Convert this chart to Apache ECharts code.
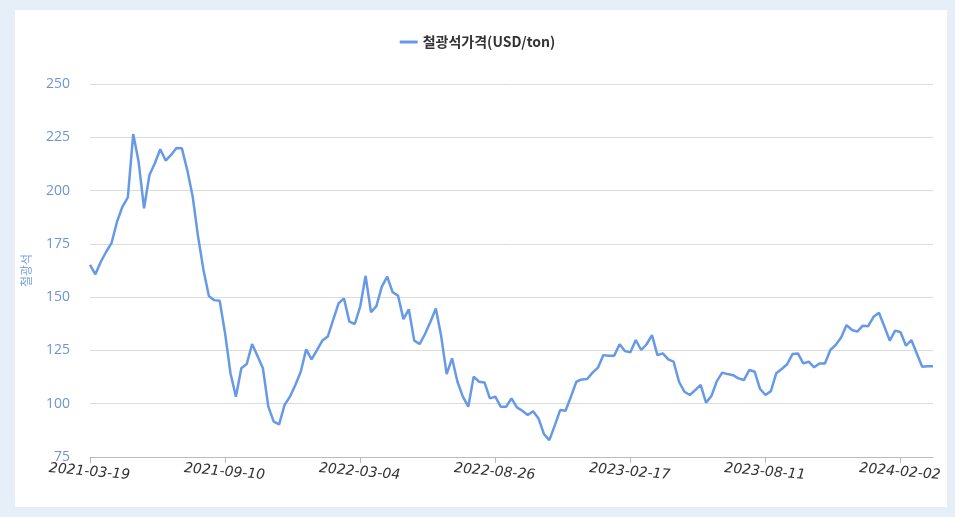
<!DOCTYPE html>
<html>
<head>
<meta charset="utf-8">
<script src="https://cdn.jsdelivr.net/npm/echarts@6/dist/echarts.min.js"></script>
<style>
html,body{margin:0;padding:0;background:#e6eef8;}
#wrap{position:absolute;left:15px;top:10px;width:932px;height:497px;background:#fff;}
#chartDiv{width:955px;height:517px;position:absolute;left:0;top:0;}
</style>
</head>
<body>
<div id="wrap"></div>
<div id="chartDiv"></div>
<script>
var seriesName = '철광석가격(USD/ton)';
var yTicks = [75, 100, 125, 150, 175, 200, 225, 250];
var startDate = '2021-03-19';
var pointCount = 157;
// 주간 가격
var prices = [
    165.1, 160.7, 166.6, 171.3, 175.5, 185.4, 192.4, 196.8, 226.5, 213.5,
    191.7, 207.3, 212.8, 219.4, 214.1, 216.7, 220, 219.8, 209.6, 197.2,
    178.4, 162.7, 150.5, 148.6, 148.3, 133, 114.3, 103.3, 116.6, 118.6,
    128, 122.4, 116.6, 98.6, 91.6, 90.3, 99.4, 103.3, 108.8, 115,
    125.5, 120.8, 125.2, 129.6, 131.5, 139.3, 147.1, 149.4, 138.5, 137.4,
    145.5, 160, 142.9, 145.8,
    154.9, 159.6, 152.3, 150.7, 139.7, 144.3, 129.6, 128, 132.7, 138.5,
    144.7, 131.5, 113.9, 121.3, 110.3, 103.3, 98.6, 112.7, 110.3, 110,
    102.5, 103.3, 98.6, 98.6, 102.5, 98.3, 96.7, 94.7, 96.5, 93.1,
    85.8, 82.9, 89.7, 97, 96.7, 103.3, 110.3, 111.4, 111.6, 114.6,
    116.9, 122.8, 122.5, 122.5, 127.9, 124.7,
    124.1, 129.9, 125.2, 127.9, 132.2, 122.8, 123.6, 120.8, 119.7, 110.3,
    105.6, 104.1, 106.4, 108.8, 100.5, 103.6, 110.6, 114.6, 113.9, 113.4,
    111.9, 111.1, 115.8, 115, 106.9, 104.1, 105.9, 114.3, 116.3, 118.5,
    123.3, 123.6, 118.9, 119.7, 117.1, 118.9, 118.9, 125.2, 127.6, 131.1,
    136.9, 134.6, 133.8, 136.6, 136.4, 140.8, 142.7, 136.2, 129.6, 134.3,
    133.5, 127.2, 129.9, 123.6, 117.3, 117.6, 117.6
];

//주간 날짜 만들기
var dates = [];
var d0 = new Date(startDate + 'T00:00:00Z');
for (var i = 0; i < pointCount; i++) {
    var d = new Date(d0.getTime() + i * 7 * 86400000);
    dates.push(d.toISOString().slice(0, 10));
}

var myChart = echarts.init(document.getElementById('chartDiv'));
var option = {
    color: ['#6699e6'],
    legend: {
        top: 30,
        left: 'center',
        itemWidth: 18,
        itemHeight: 3,
        icon: 'rect',
        textStyle: { fontFamily: 'Noto Sans CJK KR', fontSize: 14, fontWeight: 'bold', color: '#333' },
        data: [seriesName]
    },
    grid: { left: 90, right: 22, top: 84, bottom: 60, outerBoundsMode: 'none', containLabel: false },
    xAxis: {
        type: 'category',
        boundaryGap: false,
        data: dates,
        axisLine: { lineStyle: { color: '#bbb' } },
        axisTick: { interval: 24, length: 6, lineStyle: { color: '#bbb' } },
        axisLabel: {
            interval: 24,
            rotate: -5,
            align: 'center',
            verticalAlign: 'top',
            margin: 8,
            fontStyle: 'italic',
            fontFamily: 'DejaVu Sans',
            fontSize: 14,
            color: '#333'
        },
        splitLine: { show: false }
    },
    yAxis: {
        type: 'value',
        min: yTicks[0],
        max: yTicks[yTicks.length - 1],
        interval: 25,
        name: '철광석',
        nameLocation: 'middle',
        nameGap: 58,
        nameTextStyle: { color: '#7aa3e0', fontSize: 12, fontFamily: 'Noto Sans CJK KR' },
        axisLine: { show: false },
        axisTick: { show: false },
        axisLabel: { margin: 20, color: '#6f93d6', fontSize: 14, fontFamily: 'Open Sans' },
        splitLine: { lineStyle: { color: '#dcdcdc', width: 1 } }
    },
    series: [
        {
            name: seriesName,
            type: 'line',
            data: prices,
            showSymbol: false,
            lineStyle: { width: 2.5 }
        }
    ]
};
myChart.setOption(option);
</script>
</body>
</html>
